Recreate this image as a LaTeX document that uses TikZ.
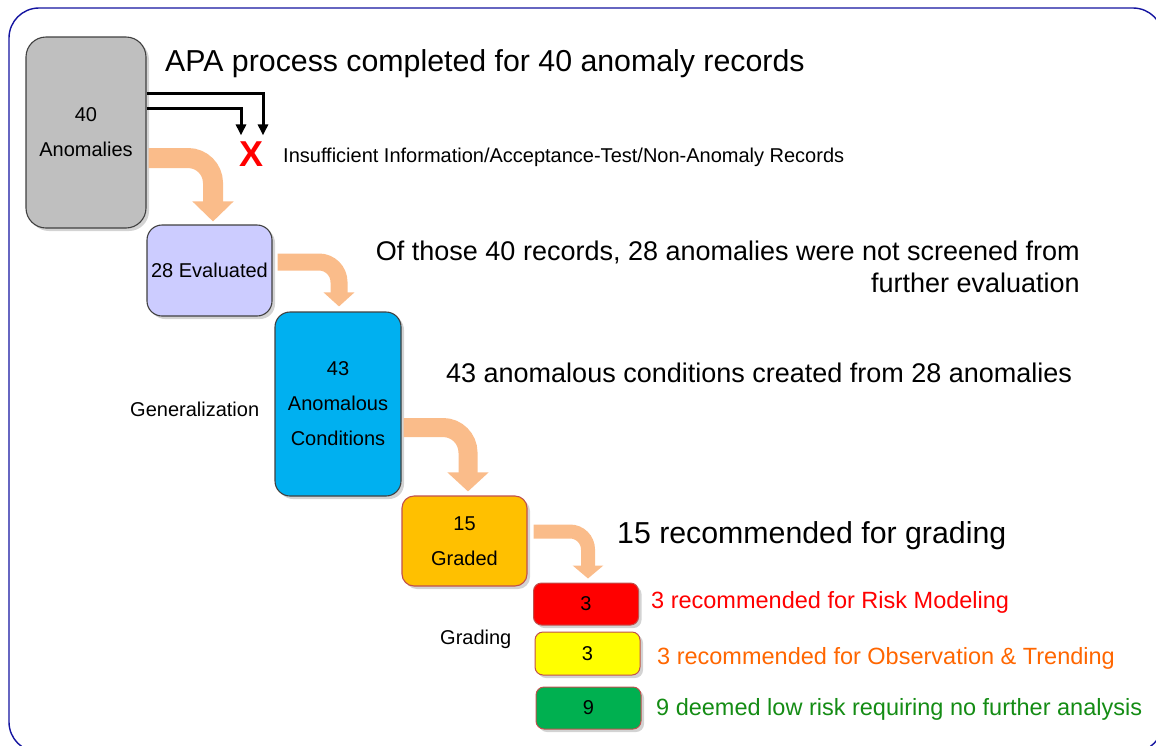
\documentclass[tikz,border=0pt]{standalone}
\usepackage{fontspec}
\setmainfont{Liberation Sans}
\usetikzlibrary{arrows.meta,shadows}
\definecolor{framecol}{RGB}{20,20,160}
\definecolor{anomgray}{RGB}{191,191,191}
\definecolor{evallav}{RGB}{204,204,255}
\definecolor{condblue}{RGB}{0,176,240}
\definecolor{gradeamber}{RGB}{255,192,0}
\definecolor{gradeedge}{RGB}{192,80,77}
\definecolor{riskred}{RGB}{255,0,0}
\definecolor{obsyellow}{RGB}{255,255,0}
\definecolor{lowgreen}{RGB}{0,176,80}
\definecolor{obstext}{RGB}{255,102,0}
\definecolor{lowtext}{RGB}{20,140,20}
\definecolor{bandorange}{RGB}{250,188,138}
\tikzset{
  stage/.style={draw=black!75, line width=1.1pt, align=center, inner sep=0pt,
    font=\fontsize{20}{35}\selectfont,
    drop shadow={shadow xshift=3pt, shadow yshift=-3pt, opacity=0.35}},
  gradebox/.style={draw=gradeedge, line width=1pt, inner sep=0pt,
    minimum width=105pt, minimum height=42pt, rounded corners=8pt,
    font=\fontsize{20}{20}\selectfont,
    drop shadow={shadow xshift=3pt, shadow yshift=-3pt, opacity=0.35}},
  bigtxt/.style={anchor=base west, inner sep=0pt, font=\fontsize{30.3}{30}\selectfont},
  midtxt/.style={inner sep=0pt, font=\fontsize{27}{27}\selectfont},
  smalltxt/.style={anchor=base west, inner sep=0pt, font=\fontsize{20}{20}\selectfont},
  outtxt/.style={anchor=base west, inner sep=0pt, font=\fontsize{23.5}{23.5}\selectfont},
  band/.style={draw=bandorange},
  reject/.style={line width=3pt, -{Triangle[width=10pt,length=11pt]}}
}
\begin{document}
\begin{tikzpicture}[x=1pt,y=-1pt]
\useasboundingbox (0,0) rectangle (1156,745);
\draw[framecol, line width=1.4pt, rounded corners=30pt] (9,8) rectangle (1163,752);

% stages
\node[stage, fill=anomgray, rounded corners=20pt, minimum width=120pt, minimum height=191pt] (anom) at (86,132.5) {40\\Anomalies};
\node[stage, fill=evallav, rounded corners=15pt, minimum width=125pt, minimum height=91pt] (eval) at (209.5,270.5) {28 Evaluated};
\node[stage, fill=condblue, rounded corners=15pt, minimum width=126pt, minimum height=184pt] (cond) at (338,404) {43\\Anomalous\\Conditions};
\node[stage, draw=gradeedge, fill=gradeamber, rounded corners=12pt, minimum width=125pt, minimum height=90pt] (graded) at (464.5,541) {15\\Graded};

% grading results
\node[gradebox, fill=riskred] (risk) at (586,604) {3};
\node[gradebox, fill=obsyellow, minimum height=43pt] (obs) at (587.5,653.5) {3};
\node[gradebox, fill=lowgreen] (low) at (588.5,708) {9};

% screened out
\node[text=riskred, inner sep=0pt, font=\fontsize{36}{36}\selectfont\bfseries] (rej) at (252,154) {X};
\draw[reject] ([yshift=39.5pt]anom.east) -| ([xshift=11pt,yshift=6pt]rej.north);
\draw[reject] ([yshift=24.5pt]anom.east) -| ([xshift=-11pt,yshift=6pt]rej.north);

% flow arrows
\draw[band, line width=20pt, rounded corners=25pt, -{Triangle[width=40pt,length=20pt]}]
  ([xshift=2pt,yshift=-25.5pt]anom.east) -| ([xshift=3.5pt,yshift=3pt]eval.north);
\draw[band, line width=17pt, rounded corners=20pt, -{Triangle[width=30pt,length=14pt]}]
  ([xshift=5pt,yshift=8.5pt]eval.east) -| ([xshift=1pt,yshift=5pt]cond.north);
\draw[band, line width=19pt, rounded corners=25pt, -{Triangle[width=40pt,length=19pt]}]
  ([xshift=2pt,yshift=-23.5pt]cond.east) -| ([xshift=3.5pt,yshift=4pt]graded.north);
\draw[band, line width=14pt, rounded corners=18pt, -{Triangle[width=30pt,length=13pt]}]
  ([xshift=6pt,yshift=9.5pt]graded.east) -| ([xshift=2pt,yshift=4pt]risk.north);

% texts
\node[bigtxt] (title) at (165,71) {APA process completed for 40 anomaly records};
\node[smalltxt] (insuf) at (283,162) {Insufficient Information/Acceptance-Test/Non-Anomaly Records};
\node[midtxt, anchor=base east] (screen1) at (1080,260) {Of those 40 records, 28 anomalies were not screened from};
\node[midtxt, anchor=base east] (screen2) at (1080,292) {further evaluation};
\node[midtxt, anchor=base west] (created) at (446,382) {43 anomalous conditions created from 28 anomalies};
\node[smalltxt] (gen) at (130,416) {Generalization};
\node[bigtxt] (recom) at (617,543) {15 recommended for grading};
\node[smalltxt] (grading) at (440,644) {Grading};
\node[outtxt, text=riskred] (risktxt) at (651,608) {3 recommended for Risk Modeling};
\node[outtxt, text=obstext] (obstxt) at (657,664) {3 recommended for Observation \& Trending};
\node[outtxt, text=lowtext] (lowtxt) at (656,715) {9 deemed low risk requiring no further analysis};
\end{tikzpicture}
\end{document}
